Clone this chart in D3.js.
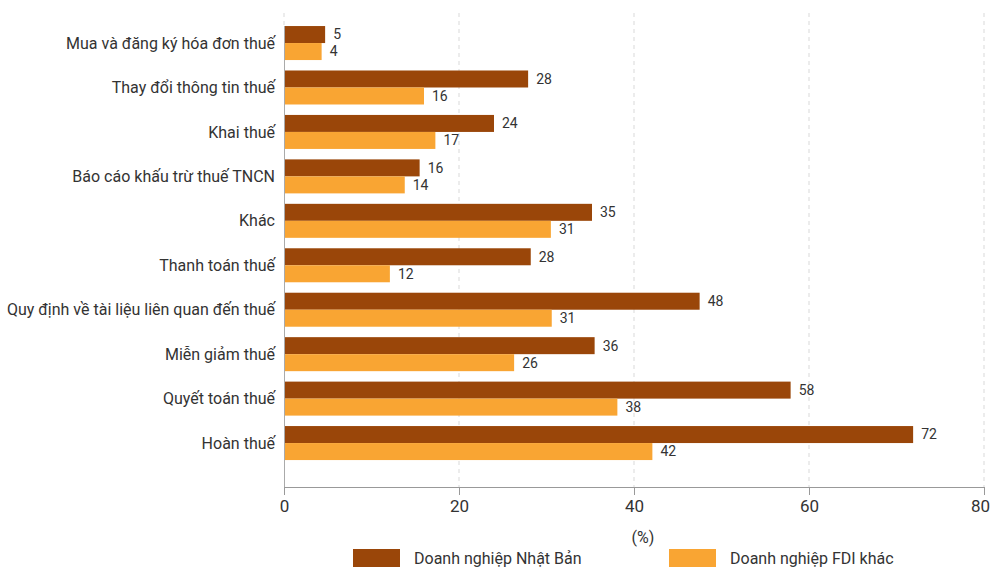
<!DOCTYPE html>
<html><head><meta charset="utf-8">
<script src="https://cdn.jsdelivr.net/npm/d3@7"></script>
<style>
html,body{margin:0;padding:0;background:#fff;overflow:hidden;}
text{font-family:Roboto,"Noto Sans",sans-serif;fill:#333;}
</style></head>
<body>
<svg id="chart" width="991" height="567"></svg>
<script>
const categories = ["Mua và đăng ký hóa đơn thuế","Thay đổi thông tin thuế","Khai thuế","Báo cáo khấu trừ thuế TNCN","Khác","Thanh toán thuế","Quy định về tài liệu liên quan đến thuế","Miễn giảm thuế","Quyết toán thuế","Hoàn thuế"];
const japanValues = [4.7, 27.9, 24.0, 15.5, 35.2, 28.2, 47.5, 35.5, 57.9, 71.9];
const fdiValues = [4.3, 16.0, 17.3, 13.8, 30.5, 12.1, 30.6, 26.3, 38.1, 42.1];
const seriesNames = ["Doanh nghiệp Nhật Bản","Doanh nghiệp FDI khác"];
const seriesColors = ["#9a4609","#f9a533"];
const xTicks = [0,20,40,60,80];
const axisTitle = "(%)";

(function(){
const svg = d3.select("#chart");
const pLeft = 284, pRight = 984, pTop = 13, axisY = 487;
const x = d3.scaleLinear().domain([0,80]).range([pLeft,pRight]);
const y = d3.scaleBand().domain(categories).range([15.6,470.5]).paddingInner(0.235).paddingOuter(0.235);
const sub = d3.scaleBand().domain([0,1]).range([0,y.bandwidth()]);

// gridlines
svg.append("g").selectAll("line").data(xTicks.filter(d=>d>0)).join("line")
  .attr("x1",d=>x(d)).attr("x2",d=>x(d)).attr("y1",pTop).attr("y2",axisY)
  .attr("stroke","#d9d9d9").attr("stroke-dasharray","4,4").attr("stroke-width",1);
svg.append("line").attr("x1",x(0)).attr("x2",x(0)).attr("y1",pTop).attr("y2",26)
  .attr("stroke","#d9d9d9").attr("stroke-dasharray","4,4");
svg.append("line").attr("x1",x(0)+0.5).attr("x2",x(0)+0.5).attr("y1",26).attr("y2",axisY)
  .attr("stroke","#aaa").attr("stroke-width",1);

// x axis
const xAxis = svg.append("g").attr("transform",`translate(0,${axisY})`)
  .call(d3.axisBottom(x).tickValues(xTicks).tickSize(8).tickPadding(5));
xAxis.select(".domain").attr("stroke","#999");
xAxis.selectAll(".tick line").attr("stroke","#999");
xAxis.selectAll(".tick text").attr("font-size",17).attr("fill","#333").attr("font-family","Roboto")
  .attr("dx",d=>d===80?-4:0);

// category labels
svg.append("g").selectAll("text").data(categories).join("text")
  .attr("x",pLeft-9).attr("y",d=>y(d)+y.bandwidth()/2).attr("dy","0.35em")
  .attr("text-anchor","end").attr("font-size",16).text(d=>d);

// bars
const series = [japanValues, fdiValues];
series.forEach((vals,si)=>{
  const g = svg.append("g");
  g.selectAll("rect").data(vals).join("rect")
    .attr("x",x(0)+1).attr("y",(d,i)=>y(categories[i])+sub(si))
    .attr("width",d=>x(d)-x(0)-1).attr("height",sub.bandwidth())
    .attr("fill",seriesColors[si]);
  g.selectAll("text").data(vals).join("text")
    .attr("x",d=>x(d)+8).attr("y",(d,i)=>y(categories[i])+sub(si)+sub.bandwidth()/2).attr("dy","0.35em")
    .attr("font-size",14).text(d=>Math.round(d));
});

// axis title
svg.append("text").attr("x",643).attr("y",537).attr("dy","0.35em").attr("text-anchor","middle")
  .attr("font-size",16).text(axisTitle);

// legend
const legX = [353,669];
seriesNames.forEach((n,i)=>{
  svg.append("rect").attr("x",legX[i]).attr("y",549).attr("width",47).attr("height",20).attr("fill",seriesColors[i]);
  svg.append("text").attr("x",legX[i]+61).attr("y",558).attr("dy","0.35em").attr("font-size",16).text(n);
});
})();
</script>
</body></html>
